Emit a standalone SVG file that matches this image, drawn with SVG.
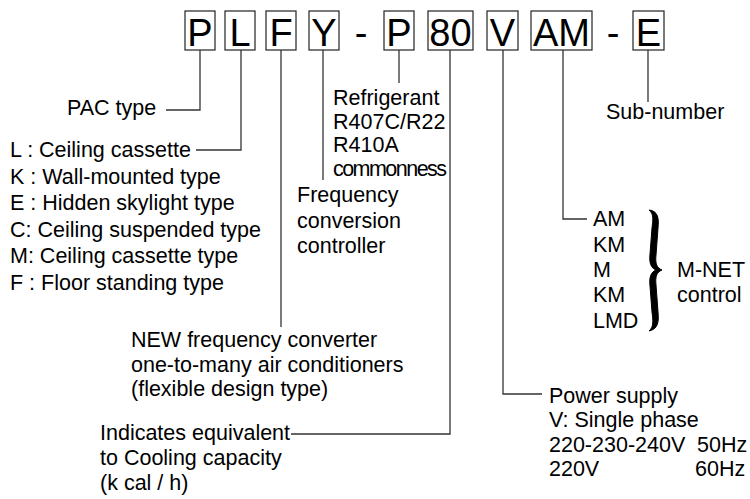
<svg xmlns="http://www.w3.org/2000/svg" width="750" height="499" viewBox="0 0 750 499">
<style>
.box{fill:#fff;stroke:#222;stroke-width:1.2}
.code{font-family:"Liberation Sans",Arial,sans-serif;font-size:38px;fill:#000;text-anchor:middle}
.t{font-family:"Liberation Sans",Arial,sans-serif;font-size:21.5px;fill:#000}
.ln{fill:none;stroke:#333;stroke-width:1.3}
</style>
<rect width="750" height="499" fill="#fff"/>
<g id="code">
<g id="c-P"><rect class="box" x="185" y="11" width="30" height="39"/><text class="code" x="200" y="46">P</text></g>
<g id="c-L"><rect class="box" x="225" y="11" width="30" height="39"/><text class="code" x="240" y="46">L</text></g>
<g id="c-F"><rect class="box" x="266" y="11" width="30" height="39"/><text class="code" x="281" y="46">F</text></g>
<g id="c-Y"><rect class="box" x="309" y="11" width="30" height="39"/><text class="code" x="324" y="46">Y</text></g>
<text class="code" x="361" y="46">-</text>
<g id="c-P2"><rect class="box" x="384" y="11" width="30" height="39"/><text class="code" x="399" y="46">P</text></g>
<g id="c-80"><rect class="box" x="428" y="11" width="45" height="39"/><text class="code" x="450.5" y="46">80</text></g>
<g id="c-V"><rect class="box" x="487" y="11" width="31" height="39"/><text class="code" x="502.5" y="46">V</text></g>
<g id="c-AM"><rect class="box" x="531" y="11" width="61" height="39"/><text class="code" x="561.5" y="46">AM</text></g>
<text class="code" x="613" y="46">-</text>
<g id="c-E"><rect class="box" x="633" y="11" width="31" height="39"/><text class="code" x="648.5" y="46">E</text></g>
</g>
<g id="connectors">
<path class="ln" d="M200 50V110H166"/>
<path class="ln" d="M241 50V150H196"/>
<path class="ln" d="M281 50V327"/>
<path class="ln" d="M323 50V180"/>
<path class="ln" d="M399 50V83"/>
<path class="ln" d="M450 50V434H291"/>
<path class="ln" d="M503 50V394H542"/>
<path class="ln" d="M563 50V219H587"/>
<path class="ln" d="M648 50V102"/>
</g>
<g id="pac"><text class="t" x="67" y="115">PAC type</text></g>
<g id="types">
<text class="t" x="10" y="157">L : Ceiling cassette</text>
<text class="t" x="10" y="184">K : Wall-mounted type</text>
<text class="t" x="10" y="210">E : Hidden skylight type</text>
<text class="t" x="10" y="237">C: Ceiling suspended type</text>
<text class="t" x="10" y="263">M: Ceiling cassette type</text>
<text class="t" x="10" y="290">F : Floor standing type</text>
</g>
<g id="new">
<text class="t" x="131" y="347">NEW frequency converter</text>
<text class="t" x="131" y="372">one-to-many air conditioners</text>
<text class="t" x="131" y="396">(flexible design type)</text>
</g>
<g id="freq">
<text class="t" x="297" y="202">Frequency</text>
<text class="t" x="297" y="228">conversion</text>
<text class="t" x="297" y="253">controller</text>
</g>
<g id="refr">
<text class="t" x="333" y="105">Refrigerant</text>
<text class="t" x="333" y="129">R407C/R22</text>
<text class="t" x="333" y="152">R410A</text>
<text class="t" x="333" y="176" textLength="114">commonness</text>
</g>
<g id="cap">
<text class="t" x="100" y="440">Indicates equivalent</text>
<text class="t" x="100" y="465">to Cooling capacity</text>
<text class="t" x="100" y="490">(k cal / h)</text>
</g>
<g id="power">
<text class="t" x="549" y="403">Power supply</text>
<text class="t" x="549" y="427">V: Single phase</text>
<text class="t" x="549" y="452">220-230-240V</text>
<text class="t" x="697" y="452">50Hz</text>
<text class="t" x="549" y="476">220V</text>
<text class="t" x="695" y="476">60Hz</text>
</g>
<g id="mnet">
<text class="t" x="593" y="226">AM</text>
<text class="t" x="593" y="252">KM</text>
<text class="t" x="593" y="277">M</text>
<text class="t" x="593" y="302">KM</text>
<text class="t" x="593" y="328">LMD</text>
<path d="M649 210C658 211 659 218 658 228L656 255C655 264 657 268 662 270C657 272 655 276 656 285L658 312C659 322 658 329 649 331C654 327 653 320 652 312L650 286C649 277 651 272 656 270C651 268 649 263 650 254L652 228C653 220 654 214 649 210Z" fill="#000" stroke="#000" stroke-width="1"/>
<text class="t" x="677" y="277">M-NET</text>
<text class="t" x="677" y="302">control</text>
</g>
<g id="sub"><text class="t" x="606" y="119">Sub-number</text></g>
</svg>
